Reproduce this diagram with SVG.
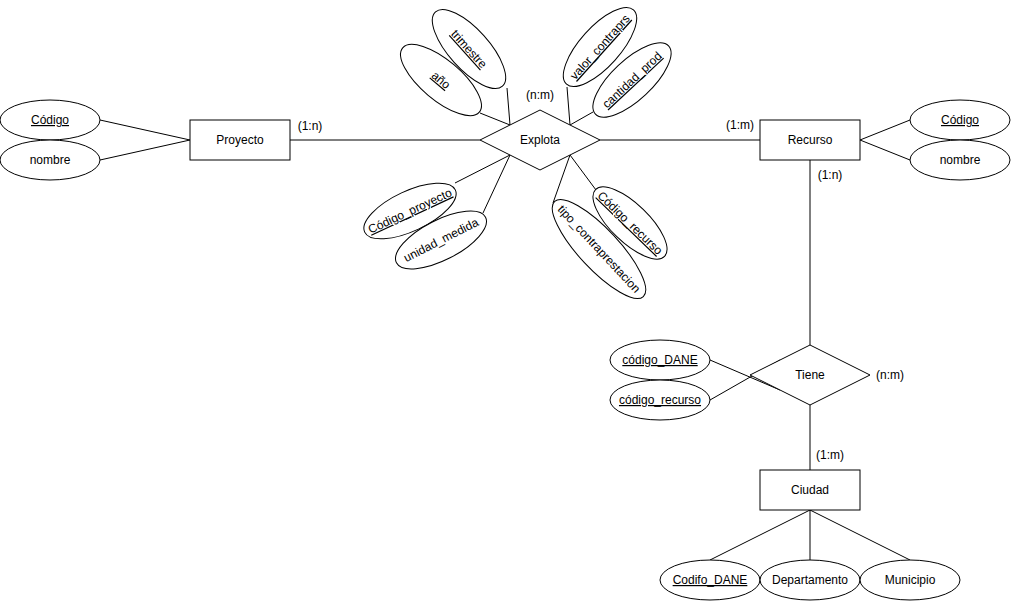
<svg xmlns="http://www.w3.org/2000/svg" width="1011" height="601" viewBox="0 0 1011 601">
  <style>
    .shape { fill: #ffffff; stroke: #000000; stroke-width: 1; }
    .edge { fill: none; stroke: #000000; stroke-width: 1; }
    text { font-family: "Liberation Sans", Arial, Helvetica, sans-serif; font-size: 12px; fill: #000000; text-anchor: middle; }
    .key { text-decoration: underline; }
  </style>
  <rect width="1011" height="601" fill="#ffffff"/>

  <!-- connectors -->
  <g id="connectors">
    <line class="edge" x1="100" y1="120" x2="190" y2="140"/>
    <line class="edge" x1="100" y1="160" x2="190" y2="140"/>
    <line class="edge" x1="290" y1="140" x2="480" y2="140"/>
    <line class="edge" x1="600" y1="140" x2="760" y2="140"/>
    <line class="edge" x1="860" y1="140" x2="910" y2="120"/>
    <line class="edge" x1="860" y1="140" x2="910" y2="160"/>
    <line class="edge" x1="810" y1="160" x2="810" y2="345"/>
    <line class="edge" x1="810" y1="405" x2="810" y2="470"/>
    <line class="edge" x1="710" y1="360" x2="780" y2="390"/>
    <line class="edge" x1="710" y1="400" x2="780" y2="360"/>
    <line class="edge" x1="810" y1="510" x2="710" y2="560"/>
    <line class="edge" x1="810" y1="510" x2="810" y2="560"/>
    <line class="edge" x1="810" y1="510" x2="910" y2="560"/>
    <!-- Explota attributes -->
    <line class="edge" x1="480" y1="113" x2="510" y2="125"/>
    <line class="edge" x1="507" y1="88" x2="510" y2="125"/>
    <line class="edge" x1="567" y1="87" x2="570" y2="125"/>
    <line class="edge" x1="593" y1="112" x2="570" y2="125"/>
    <line class="edge" x1="455" y1="183" x2="510" y2="155"/>
    <line class="edge" x1="483" y1="213" x2="510" y2="155"/>
    <line class="edge" x1="553" y1="203" x2="570" y2="155"/>
    <line class="edge" x1="596" y1="190" x2="570" y2="155"/>
  </g>

  <!-- cardinality labels -->
  <g id="labels">
    <text x="310" y="130">(1:n)</text>
    <text x="540" y="99">(n:m)</text>
    <text x="740" y="129">(1:m)</text>
    <text x="830" y="179">(1:n)</text>
    <text x="890" y="379">(n:m)</text>
    <text x="830" y="459">(1:m)</text>
  </g>

  <!-- Proyecto -->
  <g id="proyecto">
    <rect class="shape" x="190" y="120" width="100" height="40"/>
    <text x="240" y="144">Proyecto</text>
  </g>
  <g id="proyecto-codigo">
    <ellipse class="shape" cx="50" cy="120" rx="50" ry="20"/>
    <text class="key" x="50" y="124">Código</text>
  </g>
  <g id="proyecto-nombre">
    <ellipse class="shape" cx="50" cy="160" rx="50" ry="20"/>
    <text x="50" y="164">nombre</text>
  </g>

  <!-- Explota -->
  <g id="explota">
    <polygon class="shape" points="540,110 600,140 540,170 480,140"/>
    <text x="540" y="144">Explota</text>
  </g>
  <g id="explota-trimestre" transform="translate(469,49) rotate(48)">
    <ellipse class="shape" cx="0" cy="0" rx="50" ry="20"/>
    <text class="key" x="0" y="4">trimestre</text>
  </g>
  <g id="explota-anio" transform="translate(441,80) rotate(40)">
    <ellipse class="shape" cx="0" cy="0" rx="50" ry="20"/>
    <text class="key" x="0" y="4">año</text>
  </g>
  <g id="explota-valor" transform="translate(600,47) rotate(-48)">
    <ellipse class="shape" cx="0" cy="0" rx="50" ry="20"/>
    <text class="key" x="0" y="4">valor_contraprs</text>
  </g>
  <g id="explota-cantidad" transform="translate(632,80) rotate(-43)">
    <ellipse class="shape" cx="0" cy="0" rx="50" ry="20"/>
    <text class="key" x="0" y="4">cantidad_prod</text>
  </g>
  <g id="explota-codigo-proyecto" transform="translate(410,211) rotate(-25)">
    <ellipse class="shape" cx="0" cy="0" rx="50" ry="20"/>
    <text class="key" x="0" y="4">Código_proyecto</text>
  </g>
  <g id="explota-unidad" transform="translate(441,240) rotate(-27)">
    <ellipse class="shape" cx="0" cy="0" rx="50" ry="20"/>
    <text x="0" y="4">unidad_medida</text>
  </g>
  <g id="explota-tipo" transform="translate(599,249) rotate(47)">
    <ellipse class="shape" cx="0" cy="0" rx="65" ry="20"/>
    <text x="0" y="4">tipo_contraprestacion</text>
  </g>
  <g id="explota-codigo-recurso" transform="translate(630,223) rotate(44)">
    <ellipse class="shape" cx="0" cy="0" rx="48" ry="19"/>
    <text class="key" x="0" y="4">Código_recurso</text>
  </g>

  <!-- Recurso -->
  <g id="recurso">
    <rect class="shape" x="760" y="120" width="100" height="40"/>
    <text x="810" y="144">Recurso</text>
  </g>
  <g id="recurso-codigo">
    <ellipse class="shape" cx="960" cy="120" rx="50" ry="20"/>
    <text class="key" x="960" y="124">Código</text>
  </g>
  <g id="recurso-nombre">
    <ellipse class="shape" cx="960" cy="160" rx="50" ry="20"/>
    <text x="960" y="164">nombre</text>
  </g>

  <!-- Tiene -->
  <g id="tiene">
    <polygon class="shape" points="810,345 870,375 810,405 750,375"/>
    <text x="810" y="379">Tiene</text>
  </g>
  <g id="tiene-codigo-dane">
    <ellipse class="shape" cx="660" cy="360" rx="50" ry="20"/>
    <text class="key" x="660" y="364">código_DANE</text>
  </g>
  <g id="tiene-codigo-recurso">
    <ellipse class="shape" cx="660" cy="400" rx="50" ry="20"/>
    <text class="key" x="660" y="404">código_recurso</text>
  </g>

  <!-- Ciudad -->
  <g id="ciudad">
    <rect class="shape" x="760" y="470" width="100" height="40"/>
    <text x="810" y="494">Ciudad</text>
  </g>
  <g id="ciudad-codigo">
    <ellipse class="shape" cx="710" cy="580" rx="50" ry="20"/>
    <text class="key" x="710" y="584">Codifo_DANE</text>
  </g>
  <g id="ciudad-departamento">
    <ellipse class="shape" cx="810" cy="580" rx="50" ry="20"/>
    <text x="810" y="584">Departamento</text>
  </g>
  <g id="ciudad-municipio">
    <ellipse class="shape" cx="910" cy="580" rx="50" ry="20"/>
    <text x="910" y="584">Municipio</text>
  </g>
</svg>
